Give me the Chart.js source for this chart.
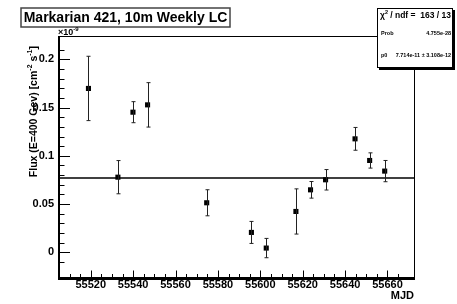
<!DOCTYPE html>
<html>
<head>
<meta charset="utf-8">
<script src="https://cdn.jsdelivr.net/npm/chart.js@4"></script>
<style>
  html, body { margin: 0; padding: 0; background: #fff; }
  canvas { display: block; }
</style>
</head>
<body>
<canvas id="chart" width="457" height="304"></canvas>
<script>
// Weekly light curve, flux in units of 1e-9 cm^-2 s^-1
const mjd = [55518.9, 55532.8, 55539.9, 55546.8, 55574.7, 55595.8, 55602.8, 55616.8, 55623.7, 55630.8, 55644.7, 55651.6, 55658.7];
const flux = [0.1698, 0.0779, 0.1452, 0.1528, 0.0514, 0.0207, 0.0045, 0.0424, 0.0648, 0.0752, 0.1176, 0.0952, 0.0842];
const fluxErr = [0.0333, 0.0172, 0.0109, 0.0230, 0.0135, 0.0114, 0.0100, 0.0234, 0.0086, 0.0106, 0.0118, 0.0079, 0.0110];
const fitP0 = 0.07714;
const xRange = [55505, 55673];
const yRange = [-0.0265, 0.2241];
const xMajor = 20, xMinor = 5;
const yMajor = 0.05, yMinor = 0.01;
const titleText = 'Markarian 421, 10m Weekly LC';
const statsLabels = ['Prob', 'p0'];
const statsValues = ['4.755e-28', '7.714e-11 \u00b1 3.108e-12'];
const chiText = '163 / 13';

const FONT = '"Liberation Sans", Arial, Helvetica, sans-serif';

function isMultiple(v, step) {
  const r = v / step;
  return Math.abs(r - Math.round(r)) < 1e-6;
}

// ROOT style frame, inside ticks, titles and boxes
const rootStyle = {
  id: 'rootStyle',
  afterDatasetsDraw(chart) {
    const ctx = chart.ctx;
    const y = chart.scales.y;
    const meta = chart.getDatasetMeta(1);

    // error bars
    ctx.save();
    ctx.strokeStyle = '#222';
    ctx.lineWidth = 1;
    meta.data.forEach((pt, i) => {
      const px = Math.round(pt.x) + 0.5;
      const yt = y.getPixelForValue(flux[i] + fluxErr[i]);
      const yb = y.getPixelForValue(flux[i] - fluxErr[i]);
      ctx.beginPath();
      ctx.moveTo(px, yt); ctx.lineTo(px, yb);
      ctx.moveTo(px - 2, yt); ctx.lineTo(px + 2, yt);
      ctx.moveTo(px - 2, yb); ctx.lineTo(px + 2, yb);
      ctx.stroke();
    });
    ctx.restore();
  },
  afterDraw(chart) {
    const ctx = chart.ctx;
    const a = chart.chartArea;
    const x = chart.scales.x, y = chart.scales.y;
    ctx.save();

    // frame
    ctx.strokeStyle = '#000';
    ctx.lineWidth = 1;
    ctx.strokeRect(a.left + 0.5, a.top + 0.5, a.right - a.left - 1, a.bottom - a.top - 1);
    ctx.lineWidth = 2;
    ctx.beginPath();
    ctx.moveTo(a.left, a.top); ctx.lineTo(a.left, a.bottom + 1); ctx.lineTo(a.right, a.bottom + 1);
    ctx.stroke();

    // ticks drawn inside the frame
    ctx.lineWidth = 1;
    ctx.beginPath();
    y.ticks.forEach(t => {
      const py = Math.round(y.getPixelForValue(t.value)) + 0.5;
      const len = isMultiple(t.value, yMajor) ? 11 : 5.5;
      ctx.moveTo(a.left, py); ctx.lineTo(a.left + len, py);
    });
    x.ticks.forEach(t => {
      const px = Math.round(x.getPixelForValue(t.value)) + 0.5;
      const len = isMultiple(t.value, xMajor) ? 7.5 : 4;
      ctx.moveTo(px, a.bottom); ctx.lineTo(px, a.bottom - len);
    });
    ctx.stroke();

    // title box
    ctx.fillStyle = '#fff';
    ctx.fillRect(21, 8, 209, 19);
    ctx.strokeStyle = '#444';
    ctx.lineWidth = 1.5;
    ctx.strokeRect(21, 8, 209, 19);
    ctx.fillStyle = '#000';
    ctx.font = 'bold 14px ' + FONT;
    ctx.textAlign = 'center';
    ctx.textBaseline = 'middle';
    ctx.fillText(titleText, 125.5, 18);

    // exponent above y axis
    ctx.textBaseline = 'alphabetic';
    ctx.textAlign = 'left';
    ctx.font = 'bold 9px ' + FONT;
    ctx.fillText('\u00d710', a.left - 1, a.top - 1);
    const w10 = ctx.measureText('\u00d710').width;
    ctx.font = 'bold 6px ' + FONT;
    ctx.fillText('-9', a.left - 1 + w10, a.top - 5);

    // x axis title
    ctx.font = 'bold 11px ' + FONT;
    ctx.textAlign = 'right';
    ctx.textBaseline = 'middle';
    ctx.fillText('MJD', a.right - 1, 296);

    // y axis title (rotated, aligned to top end)
    const parts = [
      ['Flux (E=400 Gev) [cm', false], ['-2', true], [' s', false], ['-1', true], [']', false]
    ];
    const big = 'bold 10.5px ' + FONT, small = 'bold 7px ' + FONT;
    let total = 0;
    parts.forEach(p => { ctx.font = p[1] ? small : big; total += ctx.measureText(p[0]).width; });
    ctx.save();
    ctx.translate(37, a.top + 10);
    ctx.rotate(-Math.PI / 2);
    ctx.textAlign = 'left';
    ctx.textBaseline = 'alphabetic';
    let cx = -total;
    parts.forEach(p => {
      ctx.font = p[1] ? small : big;
      ctx.fillText(p[0], cx, p[1] ? -5 : 0);
      cx += ctx.measureText(p[0]).width;
    });
    ctx.restore();

    // stats box with shadow
    ctx.fillStyle = '#000';
    ctx.fillRect(379, 10, 76, 60);
    ctx.fillStyle = '#fff';
    ctx.fillRect(377, 8, 76, 60);
    ctx.strokeStyle = '#000';
    ctx.lineWidth = 1;
    ctx.strokeRect(377.5, 8.5, 75, 59);
    ctx.fillStyle = '#000';
    ctx.textBaseline = 'middle';
    ctx.textAlign = 'left';
    ctx.font = 'bold 8.5px ' + FONT;
    ctx.fillText('\u03c7', 380, 15.5);
    const wc = ctx.measureText('\u03c7').width;
    ctx.font = 'bold 5.5px ' + FONT;
    ctx.fillText('2', 380 + wc, 12.5);
    ctx.font = 'bold 8.5px ' + FONT;
    ctx.fillText(' / ndf =', 380 + wc + 3, 15.5);
    ctx.textAlign = 'right';
    ctx.fillText(chiText, 451, 15.5);
    ctx.font = 'bold 5.5px ' + FONT;
    const rowY = [33, 55];
    statsLabels.forEach((lab, i) => {
      ctx.textAlign = 'left';
      ctx.fillText(lab, 381, rowY[i]);
      ctx.textAlign = 'right';
      ctx.fillText(statsValues[i], 451, rowY[i]);
    });

    ctx.restore();
  }
};

new Chart(document.getElementById('chart'), {
  data: {
    datasets: [{
      type: 'line',
      label: 'fit',
      data: [{ x: xRange[0], y: fitP0 }, { x: xRange[1], y: fitP0 }],
      borderColor: '#000',
      borderWidth: 1.5,
      pointRadius: 0,
      fill: false
    }, {
      type: 'scatter',
      label: 'flux',
      data: mjd.map((m, i) => ({ x: m, y: flux[i] })),
      backgroundColor: '#000',
      borderColor: '#000',
      borderWidth: 0,
      pointStyle: 'rect',
      pointRadius: 3.6
    }]
  },
  options: {
    responsive: false,
    animation: false,
    devicePixelRatio: 1,
    layout: { padding: { top: 36, right: 42, left: 0, bottom: 0 } },
    plugins: { legend: { display: false }, tooltip: { enabled: false } },
    scales: {
      x: {
        type: 'linear',
        min: xRange[0], max: xRange[1],
        grid: { display: false, drawTicks: false },
        border: { display: false },
        afterBuildTicks: s => { s.ticks = s.ticks.filter(t => isMultiple(t.value, xMinor)); },
        afterFit: s => { s.height = 26; },
        ticks: {
          stepSize: xMinor,
          autoSkip: false,
          maxRotation: 0,
          padding: 0,
          color: '#000',
          font: { family: FONT, size: 11, weight: 'bold' },
          callback: v => isMultiple(v, xMajor) ? String(Math.round(v)) : ''
        }
      },
      y: {
        type: 'linear',
        min: yRange[0], max: yRange[1],
        grid: { display: false, drawTicks: false },
        border: { display: false },
        afterBuildTicks: s => { s.ticks = s.ticks.filter(t => isMultiple(t.value, yMinor)); },
        afterFit: s => { s.width = 59; },
        ticks: {
          stepSize: yMinor,
          autoSkip: false,
          padding: 5,
          color: '#000',
          font: { family: FONT, size: 11, weight: 'bold' },
          callback: v => {
            if (!isMultiple(v, yMajor)) return '';
            const r = Math.round(v * 100) / 100;
            return r === 0 ? '0' : String(r);
          }
        }
      }
    }
  },
  plugins: [rootStyle]
});
</script>
</body>
</html>
